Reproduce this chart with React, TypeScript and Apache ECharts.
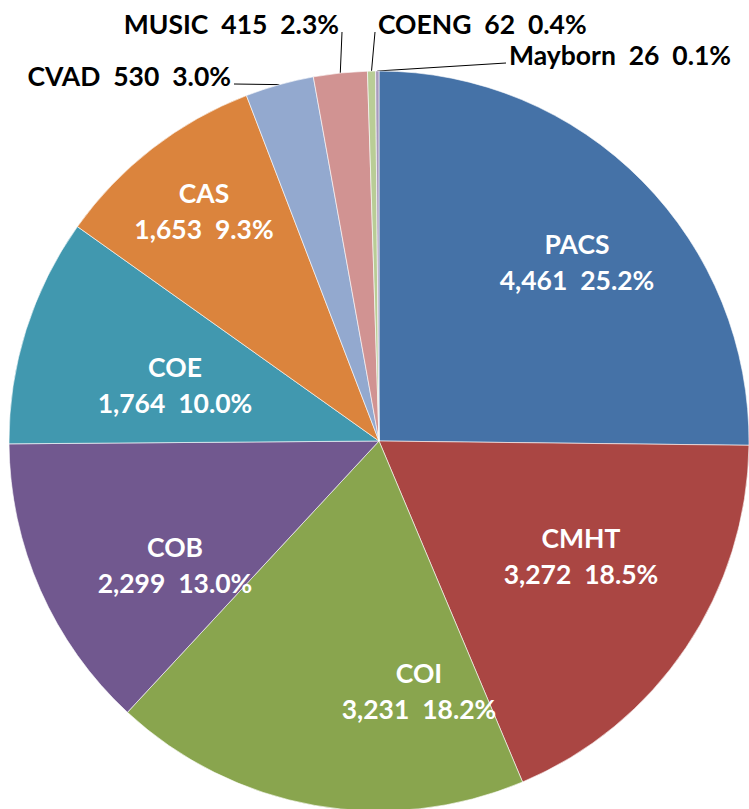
import React, { useEffect, useRef } from "react";
import * as echarts from "echarts";

const categories = ["PACS", "CMHT", "COI", "COB", "COE", "CAS", "CVAD", "MUSIC", "COENG", "Mayborn"];
const values = [4461, 3272, 3231, 2299, 1764, 1653, 530, 415, 62, 26];
const colors = ["#4572A7", "#AA4643", "#89A54E", "#71588F", "#4198AF", "#DB843D", "#93A9CF", "#D19392", "#B9CD96", "#A99BBD"];
const outsideLabels = ["CVAD", "MUSIC", "COENG", "Mayborn"];

// label placement (Excel "best fit" style), in chart pixels
const LABEL_PLACE: Record<string, { x: number; y: number; align: string }> = {
  PACS: { x: 577, y: 262, align: "center" },
  CMHT: { x: 581, y: 556, align: "center" },
  COI: { x: 419, y: 691, align: "center" },
  COB: { x: 175, y: 565, align: "center" },
  COE: { x: 175, y: 385, align: "center" },
  CAS: { x: 204, y: 211, align: "center" },
  CVAD: { x: 231, y: 76, align: "right" },
  MUSIC: { x: 339, y: 24, align: "right" },
  COENG: { x: 378, y: 24, align: "left" },
  Mayborn: { x: 509, y: 55, align: "left" },
};

const W = 749;
const H = 809;
const FONT = "Lato";

function fmt(n: number) {
  return n.toLocaleString("en-US");
}

export default function App() {
  const ref = useRef<HTMLDivElement>(null);
  useEffect(() => {
    if (!ref.current) return;
    const chart = echarts.init(ref.current, undefined, { renderer: "svg" });
    const total = values.reduce((a, b) => a + b, 0);
    const data = categories.map((name, i) => {
      const outside = outsideLabels.includes(name);
      return {
        name,
        value: values[i],
        itemStyle: { color: colors[i] },
        label: outside
          ? { position: "outside", color: "#000" }
          : { position: "inside", color: "#fff" },
        labelLine: { show: outside },
      };
    });
    chart.setOption({
      animation: false,
      series: [
        {
          type: "pie",
          center: [379, 441],
          radius: 370,
          startAngle: 90,
          clockwise: true,
          avoidLabelOverlap: false,
          itemStyle: { borderColor: "#ffffff", borderWidth: 0.6 },
          label: {
            show: true,
            fontFamily: FONT,
            fontWeight: "bold",
            fontSize: 26.5,
            lineHeight: 36,
            formatter: (p: any) => {
              const pct = ((p.value / total) * 100).toFixed(1) + "%";
              if (outsideLabels.includes(p.name)) {
                return `${p.name}  ${fmt(p.value)}  ${pct}`;
              }
              return `${p.name}\n${fmt(p.value)}  ${pct}`;
            },
          },
          labelLine: {
            show: true,
            length: 10,
            length2: 10,
            lineStyle: { color: "#000", width: 1 },
          },
          labelLayout: (params: any) => {
            const name = categories[params.dataIndex];
            const place = LABEL_PLACE[name];
            if (!place) return {};
            const res: any = {
              x: place.x,
              y: place.y,
              align: place.align,
              verticalAlign: "middle",
            };
            const pts = params.labelLinePoints;
            if (outsideLabels.includes(name) && pts && pts.length) {
              const ax = place.align === "right" ? place.x + 3 : place.x - 3;
              const ay = place.y + 8;
              res.labelLinePoints = [pts[0], [ax, ay]];
            }
            return res;
          },
          data,
        },
      ],
    });
    return () => chart.dispose();
  }, []);
  return (
    <div
      ref={ref}
      style={{ position: "absolute", left: 0, top: 0, width: W, height: H, background: "#fff" }}
    />
  );
}
